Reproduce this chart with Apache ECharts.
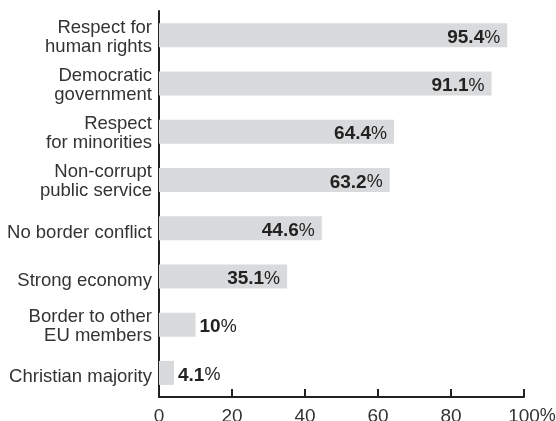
<!DOCTYPE html>
<html>
<head>
<meta charset="utf-8">
<script src="https://cdn.jsdelivr.net/npm/echarts@6/dist/echarts.min.js"></script>
<style>
  html, body { margin: 0; padding: 0; background: #fff; }
  #chart { width: 556px; height: 421px; }
</style>
</head>
<body>
<div id="chart"></div>
<script>
// Categories (top to bottom) and their shares in percent
const categories = [
  'Respect for\nhuman rights',
  'Democratic\ngovernment',
  'Respect\nfor minorities',
  'Non-corrupt\npublic service',
  'No border conflict',
  'Strong economy',
  'Border to other\nEU members',
  'Christian majority'
];
const values = [95.4, 91.1, 64.4, 63.2, 44.6, 35.1, 10, 4.1];
const axisTicks = [0, 20, 40, 60, 80, 100];

const FONT = '"Liberation Sans", Arial, sans-serif';
const INK = '#222';

const chart = echarts.init(document.getElementById('chart'), null, { renderer: 'canvas' });

// Long bars carry their value inside, short ones just past the end
const barData = values.map(v => {
  const inside = v >= 30;
  return {
    value: v,
    label: {
      position: inside ? 'insideRight' : 'right',
      distance: inside ? 7 : 4
    }
  };
});

// Category labels sit slightly below the bar centre; a thin leading
// spacer line nudges each text block down.
function categoryLabel(name) {
  const lines = name.split('\n');
  const gap = lines.length > 1 ? 'g2' : 'g1';
  return '{' + gap + '| }\n' + lines.map(s => '{t|' + s + '}').join('\n');
}

chart.setOption({
  animation: false,
  backgroundColor: '#fff',
  grid: { left: 159, right: 32, top: 11, bottom: 24, containLabel: false, outerBoundsMode: 'none' },
  xAxis: {
    type: 'value',
    min: axisTicks[0],
    max: axisTicks[axisTicks.length - 1],
    interval: axisTicks[1] - axisTicks[0],
    splitLine: { show: false },
    axisLine: { show: true, lineStyle: { color: INK, width: 2 } },
    axisTick: { show: true, inside: true, length: 8, lineStyle: { color: INK, width: 2 } },
    axisLabel: {
      fontFamily: FONT,
      fontSize: 19,
      color: '#333',
      margin: 10,
      formatter: v => v === 100 ? '{sp|}100{p|%}' : String(v),
      rich: {
        sp: { width: 16 },
        p: { fontFamily: FONT, fontSize: 18, color: '#333' }
      }
    }
  },
  yAxis: {
    type: 'category',
    inverse: true,
    data: categories,
    axisLine: { show: true, lineStyle: { color: INK, width: 2 } },
    axisTick: { show: false },
    axisLabel: {
      color: '#333',
      margin: 7,
      align: 'right',
      formatter: categoryLabel,
      rich: {
        t: { fontFamily: FONT, fontSize: 18.5, lineHeight: 19, color: '#333' },
        g1: { fontSize: 1, lineHeight: 9 },
        g2: { fontSize: 1, lineHeight: 4 }
      }
    }
  },
  series: [{
    type: 'bar',
    data: barData,
    barWidth: 24,
    itemStyle: { color: '#d9dadc' },
    z: 3,
    label: {
      show: true,
      offset: [0, 2.5],
      formatter: p => '{n|' + p.value + '}{p|%}',
      rich: {
        n: { fontFamily: FONT, fontSize: 19, fontWeight: 'bold', color: INK },
        p: { fontFamily: FONT, fontSize: 18, fontWeight: 'normal', color: INK }
      }
    }
  }]
});
</script>
</body>
</html>
